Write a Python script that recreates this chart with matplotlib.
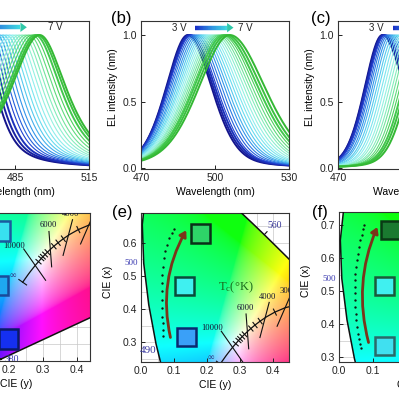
import numpy as np
import matplotlib
matplotlib.use('Agg')
import matplotlib.pyplot as plt
from matplotlib.colors import LinearSegmentedColormap
from matplotlib.patches import Polygon, Rectangle, FancyArrowPatch
from matplotlib.collections import LineCollection

plt.rcParams['font.family'] = ['Liberation Sans', 'DejaVu Sans']
plt.rcParams['mathtext.fontset'] = 'stix'

# ---------------------------------------------------------------- data
# EL spectra, 21 driving voltages (3 V -> 7 V): peak wavelength and
# left / right half widths (nm)
peak_a = [470.0, 471.2, 472.5, 473.8, 475.0, 476.3, 477.6, 478.9, 480.2, 481.5, 482.8,
          484.1, 485.4, 486.7, 488.0, 489.3, 490.6, 491.9, 493.2, 494.2, 495.0]
hwl_a = [11.0, 11.2, 11.3, 11.5, 11.6, 11.8, 11.9, 12.1, 12.2, 12.4, 12.5,
         12.7, 12.8, 13.0, 13.1, 13.3, 13.4, 13.6, 13.7, 13.9, 14.0]
hwr_a = [8.5, 8.7, 8.9, 9.2, 9.4, 9.6, 9.8, 10.1, 10.3, 10.5, 10.7,
         10.9, 11.2, 11.4, 11.6, 11.8, 12.1, 12.3, 12.5, 12.8, 13.0]
peak_b = [489.0, 489.4, 489.9, 490.5, 491.2, 492.0, 492.9, 493.8, 494.7, 495.6, 496.5,
          497.4, 498.3, 499.2, 500.1, 501.0, 501.9, 502.8, 503.7, 504.8, 506.0]
hwl_b = [10.5, 10.7, 10.9, 11.2, 11.4, 11.6, 11.8, 12.1, 12.3, 12.5, 12.8,
         13.0, 13.2, 13.4, 13.7, 13.9, 14.1, 14.3, 14.6, 14.8, 15.0]
hwr_b = [11.5, 11.8, 12.1, 12.3, 12.6, 12.9, 13.2, 13.4, 13.7, 14.0, 14.3,
         14.5, 14.8, 15.1, 15.4, 15.6, 15.9, 16.2, 16.5, 16.7, 17.0]
peak_c = [488.0, 488.3, 488.7, 489.2, 489.8, 490.5, 491.3, 492.2, 493.2, 494.2, 495.3,
          496.4, 497.5, 498.6, 499.7, 500.8, 501.9, 503.0, 504.1, 505.2, 506.3]
hwl_c = [8.5, 8.6, 8.6, 8.7, 8.7, 8.8, 8.8, 8.9, 8.9, 9.0, 9.0,
         9.1, 9.1, 9.2, 9.2, 9.3, 9.3, 9.4, 9.4, 9.5, 9.5]
hwr_c = [10.5, 10.7, 10.9, 11.2, 11.4, 11.6, 11.8, 12.1, 12.3, 12.5, 12.7,
         12.9, 13.1, 13.3, 13.5, 13.8, 14.0, 14.2, 14.5, 14.7, 15.0]
eta_a, eta_b, eta_c = 0.7, 0.3, 0.2

# CIE 1931 spectral locus
locus_x = [0.1741, 0.1714, 0.1644, 0.1566, 0.1440, 0.1355, 0.1241, 0.1096, 0.0913, 0.0687,
           0.0454, 0.0235, 0.0082, 0.0039, 0.0139, 0.0389, 0.0743, 0.1142, 0.1547, 0.1929,
           0.2296, 0.2658, 0.3016, 0.3373, 0.3731, 0.4087, 0.4441, 0.4788, 0.5125, 0.5752,
           0.6270, 0.6915, 0.7190, 0.7347]
locus_y = [0.0050, 0.0051, 0.0109, 0.0177, 0.0297, 0.0399, 0.0578, 0.0868, 0.1327, 0.2007,
           0.2950, 0.4127, 0.5384, 0.6548, 0.7502, 0.8120, 0.8338, 0.8262, 0.8059, 0.7816,
           0.7543, 0.7243, 0.6923, 0.6589, 0.6245, 0.5896, 0.5547, 0.5202, 0.4866, 0.4242,
           0.3725, 0.3083, 0.2809, 0.2653]
# Planckian locus (inf, 20000 ... 2500 K)
planck_x = [0.2399, 0.2568, 0.2637, 0.2714, 0.2806, 0.2869, 0.2950, 0.2999, 0.3064, 0.3135,
            0.3221, 0.3325, 0.3451, 0.3608, 0.3805, 0.4053, 0.4369, 0.4770]
planck_y = [0.2342, 0.2581, 0.2672, 0.2770, 0.2883, 0.2952, 0.3048, 0.3100, 0.3166, 0.3236,
            0.3318, 0.3411, 0.3516, 0.3635, 0.3768, 0.3907, 0.4041, 0.4137]
planck_tick_idx = [5, 6, 7, 8, 9, 11, 12, 13, 15]
iso_labels = ['10000', '6000', '4000', '3000']
iso_x0 = [0.243, 0.318, 0.388, 0.452]
iso_y0 = [0.333, 0.385, 0.420, 0.440]
iso_x1 = [0.308, 0.326, 0.360, 0.412]
iso_y1 = [0.240, 0.280, 0.314, 0.348]
iso_lab_x = [0.215, 0.317, 0.382, 0.445]
iso_lab_y = [0.343, 0.403, 0.437, 0.455]

# colour coordinates of the devices (squares), dotted trace and arrow
sq_d_x = [0.174, 0.168, 0.198]
sq_d_y = [0.386, 0.225, 0.066]
sq_d_fc = ['#38e0f0', '#1ea8f0', '#1530f0']
sq_d_ec = ['#1a5aa0', '#1a4a9a', '#0a1a6a']
sq_e_x = [0.180, 0.131, 0.138]
sq_e_y = [0.628, 0.469, 0.316]
sq_e_fc = ['#2ed468', '#3ff0f0', '#3aa0f8']
sq_e_ec = ['#0a3018', '#0a4a3a', '#0a2a70']
sq_f_x = [0.152, 0.134, 0.134]
sq_f_y = [0.685, 0.515, 0.334]
sq_f_fc = ['#1a7a30', '#40f0f0', '#40e0f0']
sq_f_ec = ['#0a3a15', '#1a5a3a', '#2a6a6a']

dots_e_x = [0.101, 0.093, 0.086, 0.079, 0.073, 0.069, 0.066, 0.064, 0.063, 0.063, 0.063,
            0.064, 0.065, 0.066, 0.067, 0.068]
dots_e_y = [0.643, 0.629, 0.614, 0.594, 0.574, 0.554, 0.528, 0.503, 0.478, 0.453, 0.427,
            0.402, 0.377, 0.357, 0.336, 0.318]
dots_f_x = [0.0735, 0.0696, 0.0667, 0.0618, 0.0588, 0.0549, 0.052, 0.050, 0.048, 0.047,
            0.046, 0.046, 0.047, 0.048, 0.049, 0.051, 0.053, 0.055, 0.059, 0.062, 0.065]
dots_f_y = [0.702, 0.687, 0.671, 0.654, 0.634, 0.614, 0.594, 0.573, 0.553, 0.533, 0.513,
            0.493, 0.472, 0.452, 0.432, 0.412, 0.392, 0.371, 0.356, 0.341, 0.328]
arrow_e = [(0.091, 0.306), (0.141, 0.645)]
arrow_f = [(0.089, 0.336), (0.116, 0.702)]

# ---------------------------------------------------------------- figure
W = H = 399
fig = plt.figure(figsize=(W / 100, H / 100), dpi=100)


def add_ax(l, r, t, b):
    return fig.add_axes([l / W, 1 - b / H, (r - l) / W, (b - t) / H])


spec_cmap = LinearSegmentedColormap.from_list(
    'spec', ['#14148c', '#1f3fd0', '#2f8fe8', '#5fd8f0', '#98f2ec', '#84ecb8', '#48d058', '#34b834'])
arrow_cmap = LinearSegmentedColormap.from_list('arr', ['#1a2fc8', '#2f8fe0', '#40d8e0'])

TFS = 7.5


def style(ax):
    ax.tick_params(direction='in', length=3, width=0.7, labelsize=TFS, pad=3,
                   colors='#222222')
    for s in ax.spines.values():
        s.set_linewidth(0.8)
        s.set_color('#333333')


def spectra(ax, peaks, hwl, hwr, eta, xlim, ticks, arr, lab3, lab7):
    wl = np.linspace(xlim[0], xlim[1], 500)
    n = len(peaks)
    for i, (p, l, r) in enumerate(zip(peaks, hwl, hwr)):
        d = wl - p
        hw = np.where(d < 0, l, r)
        u = (d / hw) ** 2
        y = eta / (1 + u) + (1 - eta) * np.exp(-np.log(2) * u)
        lw = 1.4 if (i < 3 or i >= n - 3) else 0.8
        ax.plot(wl, y, color=spec_cmap(i / (n - 1)), lw=lw)
    ax.set_xlim(xlim)
    ax.set_ylim(-0.004, 1.105)
    ax.set_xticks(ticks)
    ax.set_yticks([0.0, 0.5, 1.0])
    ax.set_yticklabels(['0.0', '0.5', '1.0'])
    ax.set_xlabel('Wavelength (nm)', fontsize=TFS)
    ax.xaxis.set_label_coords(0.5, -0.125)
    ax.set_ylabel('EL intensity (nm)', fontsize=TFS)
    ax.yaxis.set_label_coords(-0.155, 0.55)
    style(ax)
    # gradient arrow 3 V -> 7 V
    x0, x1, y = arr
    hl = 2.6
    xs = np.linspace(x0, x1 - hl, 40)
    pts = np.array([xs, np.full_like(xs, y)]).T.reshape(-1, 1, 2)
    segs = np.concatenate([pts[:-1], pts[1:]], axis=1)
    lc = LineCollection(segs, colors=arrow_cmap(np.linspace(0, 1, len(segs))), lw=3.2,
                        capstyle='butt', zorder=5)
    ax.add_collection(lc)
    ax.add_patch(Polygon([[x1 - hl, y - 0.035], [x1 - hl, y + 0.035], [x1, y]],
                         closed=True, color='#30c8a8', zorder=5, lw=0))
    ax.text(lab3, y, '3 V', fontsize=7, ha='center', va='center', color='#222222')
    ax.text(lab7, y, '7 V', fontsize=7, ha='center', va='center', color='#222222')


ax_a = add_ax(-59, 89, 21, 169)
spectra(ax_a, peak_a, hwl_a, hwr_a, eta_a, (455, 515), [455, 485, 515], (471, 489.8, 1.058), 464, 501.4)
ax_b = add_ax(141, 289, 21, 169)
spectra(ax_b, peak_b, hwl_b, hwr_b, eta_b, (470, 530), [470, 500, 530], (492, 507.5, 1.055), 485.5, 512.2)
ax_c = add_ax(338, 486, 21, 169)
spectra(ax_c, peak_c, hwl_c, hwr_c, eta_c, (470, 530), [470, 500, 530], (492.3, 507.8, 1.055), 485.5, 512.2)

fig.text(121 / W, 1 - 18 / H, '(b)', fontsize=12, ha='center', va='center')
fig.text(321 / W, 1 - 18 / H, '(c)', fontsize=12, ha='center', va='center')
fig.text(122 / W, 1 - 213 / H, '(e)', fontsize=12, ha='center', va='center')
fig.text(320 / W, 1 - 213 / H, '(f)', fontsize=12, ha='center', va='center')

# ---------------------------------------------------------------- CIE panels
M = np.array([[3.2406, -1.5372, -0.4986],
              [-0.9689, 1.8758, 0.0415],
              [0.0557, -0.2040, 1.0570]])


def cie_rgb(n=420):
    xs = np.linspace(0, 0.75, n)
    ys = np.linspace(0.001, 0.85, n)
    X, Y = np.meshgrid(xs, ys)
    Xt = X / Y
    Zt = (1 - X - Y) / Y
    XYZ = np.stack([Xt, np.ones_like(Xt), Zt], axis=-1)
    rgb = np.clip(XYZ @ M.T, 0, None) * np.array([1.0, 1.0, 0.8])
    rgb = rgb / rgb.max(axis=-1, keepdims=True)
    rgb = rgb ** (1 / 1.9)
    rgb = 0.06 + 0.94 * rgb
    return np.clip(rgb, 0, 1)


RGB = cie_rgb()
SERIF = ['Liberation Serif', 'DejaVu Serif']


def cie_panel(ax, xlim, ylim, xticks, yticks):
    for g in np.arange(0, 0.80, 0.05):
        ax.axvline(g, color='#c8c8c8', lw=0.5, zorder=0)
        ax.axhline(g, color='#c8c8c8', lw=0.5, zorder=0)
    im = ax.imshow(RGB, extent=[0, 0.75, 0.001, 0.85], origin='lower', aspect='auto',
                   interpolation='bilinear', zorder=1)
    poly = Polygon(np.c_[locus_x, locus_y], closed=True, transform=ax.transData,
                   fc='none', ec='none')
    ax.add_patch(poly)
    im.set_clip_path(poly)
    ax.plot(locus_x + [locus_x[0]], locus_y + [locus_y[0]], color='#111111', lw=1.1, zorder=3)
    # Planckian locus with isotherms
    px, py = np.array(planck_x), np.array(planck_y)
    ax.plot(px, py, color='#111111', lw=0.9, zorder=4)
    for i in planck_tick_idx + [0]:
        j0, j1 = max(i - 1, 0), min(i + 1, len(px) - 1)
        dx, dy = px[j1] - px[j0], py[j1] - py[j0]
        nrm = np.hypot(dx, dy)
        nx, ny = -dy / nrm, dx / nrm
        L = 0.010 if i else 0.014
        ax.plot([px[i] - L * nx, px[i] + L * nx], [py[i] - L * ny, py[i] + L * ny],
                color='#111111', lw=0.8, zorder=4)
    for k in range(len(iso_labels)):
        ax.plot([iso_x0[k], iso_x1[k]], [iso_y0[k], iso_y1[k]], color='#111111', lw=0.8, zorder=4)
        ax.text(iso_lab_x[k], iso_lab_y[k], iso_labels[k], fontsize=6.2, family=SERIF,
                ha='center', va='center', color='#151530', zorder=5, clip_on=True)
    ax.text(0.21, 0.252, '\u221e', fontsize=6.5, family=SERIF, ha='center', va='center',
            color='#303080', zorder=5, clip_on=True)
    ax.text(0.288, 0.466, r'$\mathregular{T_c}$(°K)', fontsize=9, family=SERIF,
            ha='center', va='center', color='#1a6a1a', zorder=5, clip_on=True)
    ax.set_xlim(xlim)
    ax.set_ylim(ylim)
    ax.set_xticks(xticks)
    ax.set_yticks(yticks)
    ax.set_xticklabels([f'{t:.1f}' for t in xticks])
    ax.set_yticklabels([f'{t:.1f}' for t in yticks])
    ax.set_xlabel('CIE (y)', fontsize=TFS)
    ax.xaxis.set_label_coords(0.5, -0.12)
    ax.set_ylabel('CIE (x)', fontsize=TFS)
    ax.yaxis.set_label_coords(-0.19, 0.54)
    style(ax)


def squares(ax, xs, ys, fcs, ecs, size):
    for x, y, fc, ec in zip(xs, ys, fcs, ecs):
        ax.add_patch(Rectangle((x - size / 2, y - size / 2), size, size, fc=fc, ec=ec,
                               lw=1.8, zorder=6))


def trace(ax, dx, dy, arr, rad):
    ax.plot(dx, dy, 'o', ms=1.7, mew=0, color='#101810', zorder=6)
    ax.add_patch(FancyArrowPatch(arr[0], arr[1], connectionstyle=f'arc3,rad={rad}',
                                 arrowstyle='-|>,head_length=3.5,head_width=2.2',
                                 color='#7b351a', lw=2.0, zorder=6))


ax_d = add_ax(-58, 90, 213, 361)
cie_panel(ax_d, (0, 0.44), (0, 0.44), [0.0, 0.1, 0.2, 0.3, 0.4], [0.0, 0.1, 0.2, 0.3, 0.4])
squares(ax_d, sq_d_x, sq_d_y, sq_d_fc, sq_d_ec, 0.058)
ax_d.text(0.207, 0.004, '380', fontsize=7, family=SERIF, ha='center', va='center',
          color='#3a3ab0', zorder=5, clip_on=True)

ax_e = add_ax(141, 289, 213, 362)
cie_panel(ax_e, (0, 0.448), (0.24, 0.69), [0.0, 0.1, 0.2, 0.3, 0.4], [0.3, 0.4, 0.5, 0.6])
squares(ax_e, sq_e_x, sq_e_y, sq_e_fc, sq_e_ec, 0.056)
trace(ax_e, dots_e_x, dots_e_y, arrow_e, -0.2)
ax_e.text(0.02, 0.276, '490', fontsize=8, family=SERIF, ha='center', va='center',
          color='#3a3aa0', zorder=5)
ax_e.text(0.405, 0.652, '560', fontsize=7, family=SERIF, ha='center', va='center',
          color='#3a3a9a', zorder=5)
ax_e.plot([0.3731, 0.3815], [0.6245, 0.6335], color='#111111', lw=0.8, zorder=4)
ax_e.text(-0.03, 0.538, '500', fontsize=6.5, family=SERIF, ha='center', va='center',
          color='#3a3ab0', clip_on=False)

ax_f = add_ax(339, 487, 212, 362)
cie_panel(ax_f, (0, 0.435), (0.285, 0.74), [0.0, 0.1, 0.2, 0.3, 0.4], [0.3, 0.4, 0.5, 0.6, 0.7])
squares(ax_f, sq_f_x, sq_f_y, sq_f_fc, sq_f_ec, 0.055)
trace(ax_f, dots_f_x, dots_f_y, arrow_f, -0.18)
ax_f.text(-0.03, 0.537, '500', fontsize=6.5, family=SERIF, ha='center', va='center',
          color='#3a3ab0', clip_on=False)

fig.savefig('out.png', dpi=100)
